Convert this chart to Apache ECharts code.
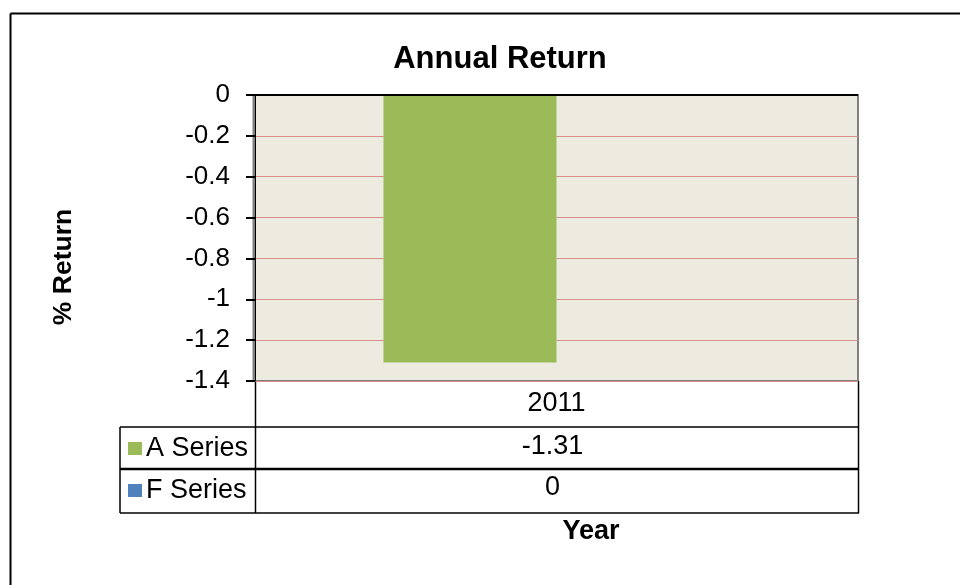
<!DOCTYPE html>
<html>
<head>
<meta charset="utf-8">
<script src="https://cdn.jsdelivr.net/npm/echarts@6/dist/echarts.min.js"></script>
<style>
html,body{margin:0;padding:0;background:#fff;}
#chart{width:960px;height:585px;}
</style>
</head>
<body>
<div id="chart"></div>
<script>
const categories = ['2011'];
const seriesNames = ['A Series', 'F Series'];
const aSeries = [-1.31];
const fSeries = [0];
const yTicks = { min: -1.4, max: 0, interval: 0.2 };

const FONT = '"Liberation Sans", Arial, sans-serif';
const G = { left: 255, right: 858, top: 95, bottom: 381 };
const rows = [427, 469, 513];
const tableLeft = 120;

const chart = echarts.init(document.getElementById('chart'));

function fmt(v){ return String(v); }

const graphics = [
  // outer frame
  { type: 'line', shape: { x1: 10.5, y1: 13.5, x2: 960, y2: 13.5 }, style: { stroke: '#000', lineWidth: 2 } },
  { type: 'line', shape: { x1: 10.5, y1: 13.5, x2: 10.5, y2: 585 }, style: { stroke: '#000', lineWidth: 2 } },
  // plot area left shading
  { type: 'line', shape: { x1: G.left - 1.5, y1: G.top, x2: G.left - 1.5, y2: G.bottom }, style: { stroke: '#808080', lineWidth: 2 } },
  // table lines
  { type: 'line', shape: { x1: G.left + 0.5, y1: G.bottom, x2: G.left + 0.5, y2: rows[2] }, style: { stroke: '#000', lineWidth: 1.5 } },
  { type: 'line', shape: { x1: G.right + 0.5, y1: G.bottom, x2: G.right + 0.5, y2: rows[2] }, style: { stroke: '#000', lineWidth: 1.5 } },
  { type: 'line', shape: { x1: tableLeft, y1: rows[0], x2: tableLeft, y2: rows[2] }, style: { stroke: '#000', lineWidth: 1.5 } },
  { type: 'line', shape: { x1: tableLeft, y1: rows[0], x2: G.right + 1, y2: rows[0] }, style: { stroke: '#000', lineWidth: 1.5 } },
  { type: 'line', shape: { x1: tableLeft, y1: rows[1], x2: G.right + 1, y2: rows[1] }, style: { stroke: '#000', lineWidth: 2.5 } },
  { type: 'line', shape: { x1: tableLeft, y1: rows[2], x2: G.right + 1, y2: rows[2] }, style: { stroke: '#000', lineWidth: 1.5 } },
  // table values
  { type: 'text', x: (G.left + G.right) / 2 - 4, y: (rows[0] + rows[1]) / 2 - 1, style: { text: fmt(aSeries[0]), font: '27px ' + FONT, fill: '#000', textAlign: 'center', textVerticalAlign: 'middle' } },
  { type: 'text', x: (G.left + G.right) / 2 - 4, y: (rows[1] + rows[2]) / 2 - 3, style: { text: fmt(fSeries[0]), font: '27px ' + FONT, fill: '#000', textAlign: 'center', textVerticalAlign: 'middle' } },
  // axis titles
  { type: 'text', x: 591, y: 532, style: { text: 'Year', font: 'bold 27px ' + FONT, fill: '#000', textAlign: 'center', textVerticalAlign: 'middle' } },
  { type: 'text', x: 64, y: 267, rotation: Math.PI / 2, style: { text: '% Return', font: 'bold 26.5px ' + FONT, fill: '#000', textAlign: 'center', textVerticalAlign: 'middle' } }
];

chart.setOption({
  animation: false,
  backgroundColor: '#fff',
  title: {
    text: 'Annual Return',
    left: 495, top: 39,
    textAlign: 'center',
    textStyle: { fontFamily: FONT, fontSize: 31, fontWeight: 'bold', color: '#000' }
  },
  legend: {
    orient: 'vertical',
    left: 123, top: 430,
    itemWidth: 14, itemHeight: 13, itemGap: 15,
    icon: 'rect',
    data: seriesNames,
    textStyle: { fontFamily: FONT, fontSize: 27, color: '#000', lineHeight: 27, padding: [0, 0, 0, -1] }
  },
  grid: {
    left: G.left, right: 960 - G.right, top: G.top, bottom: 585 - G.bottom,
    show: true, backgroundColor: '#EDEBE0', borderColor: '#808080', borderWidth: 2
  },
  xAxis: {
    type: 'category',
    data: categories,
    position: 'bottom',
    axisLine: { show: false, onZero: false },
    axisTick: { show: false },
    axisLabel: { margin: 9, fontFamily: FONT, fontSize: 27, color: '#000' }
  },
  yAxis: {
    type: 'value',
    min: yTicks.min, max: yTicks.max, interval: yTicks.interval,
    axisLine: { show: true, lineStyle: { color: '#000', width: 1 } },
    axisTick: { show: true, length: 9, lineStyle: { color: '#000', width: 2 } },
    axisLabel: { margin: 25, fontFamily: FONT, fontSize: 26, color: '#000' },
    splitLine: { show: true, lineStyle: { color: '#D98E8C', width: 1 } }
  },
  series: [
    {
      name: seriesNames[0], type: 'bar', data: aSeries,
      barWidth: 173, barGap: '0%',
      itemStyle: { color: '#9BBB59' },
      markLine: {
        silent: true, symbol: 'none', label: { show: false },
        lineStyle: { color: '#000', width: 2, type: 'solid' },
        data: [{ yAxis: 0 }]
      }
    },
    {
      name: seriesNames[1], type: 'bar', data: fSeries,
      barWidth: 173, barGap: '0%',
      itemStyle: { color: '#4F81BD' }
    }
  ],
  graphic: graphics
});
</script>
</body>
</html>
